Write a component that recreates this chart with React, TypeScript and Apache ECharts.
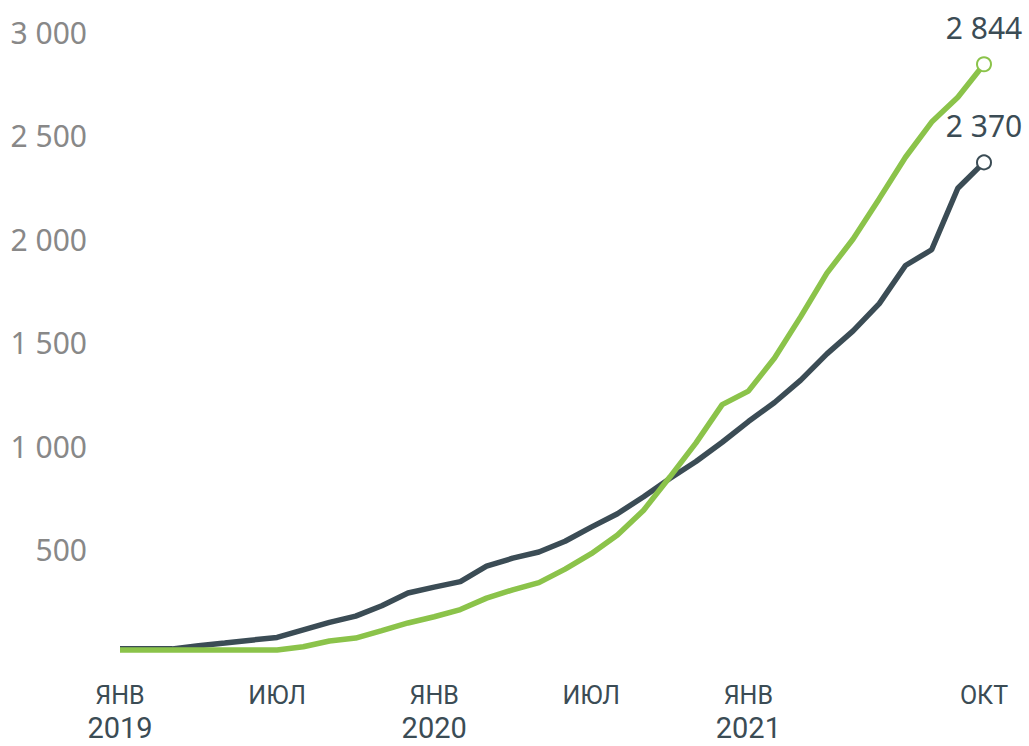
import React, { useEffect, useRef } from "react";
import * as echarts from "echarts";

const months = ["янв","фев","мар","апр","май","июн","июл","авг","сен","окт","ноя","дек",
  "янв","фев","мар","апр","май","июн","июл","авг","сен","окт","ноя","дек",
  "янв","фев","мар","апр","май","июн","июл","авг","сен","окт"];
const years = ["2019","2019","2019","2019","2019","2019","2019","2019","2019","2019","2019","2019",
  "2020","2020","2020","2020","2020","2020","2020","2020","2020","2020","2020","2020",
  "2021","2021","2021","2021","2021","2021","2021","2021","2021","2021"];
const shownLabels = [0, 6, 12, 18, 24, 33];
const yearLabels = [0, 12, 24];

const darkSeries = [20, 20, 20, 35, 48, 62, 75, 112, 148, 178, 228, 290, 318, 345, 420, 458, 488, 540,
  608, 673, 755, 843, 925, 1018, 1118, 1210, 1318, 1445, 1556, 1688, 1872, 1948, 2245, 2370];
const greenSeries = [15, 15, 15, 15, 15, 15, 15, 30, 58, 72, 108, 145, 175, 210, 265, 305, 340, 405,
  480, 570, 690, 850, 1015, 1200, 1265, 1425, 1625, 1835, 2000, 2195, 2395, 2565, 2685, 2844];

const DARK = "#3b4c55";
const GREEN = "#8bc34a";

function fmt(v: number) {
  return String(v).replace(/\B(?=(\d{3})+(?!\d))/g, " ");
}

function mkData(arr: number[]) {
  return arr.map((v, i) =>
    i === arr.length - 1
      ? {
          value: v,
          symbol: "emptyCircle",
          symbolSize: 14,
          label: {
            show: true,
            position: "top",
            distance: 14,
            formatter: () => fmt(v),
            color: DARK,
            fontSize: 30,
            fontFamily: "Noto Sans",
          },
        }
      : { value: v, symbolSize: 0 }
  );
}

export default function App() {
  const ref = useRef<HTMLDivElement>(null);
  useEffect(() => {
    const chart = echarts.init(ref.current!, null, { renderer: "svg" });
    const baseX = {
      type: "category",
      boundaryGap: false,
      position: "bottom",
      axisLine: { show: false },
      axisTick: { show: false },
      splitLine: { show: false },
    };
    chart.setOption({
      animation: false,
      grid: { left: 120, right: 45, top: 32, bottom: 93, containLabel: false },
      xAxis: [
        {
          ...baseX,
          data: months,
          axisLabel: {
            interval: (idx: number) => shownLabels.includes(idx),
            margin: 28,
            formatter: (val: string) => val.toUpperCase(),
            fontSize: 25,
            lineHeight: 29,
            color: DARK,
            fontFamily: "Roboto",
          },
        },
        {
          ...baseX,
          data: years,
          axisLabel: {
            interval: (idx: number) => yearLabels.includes(idx),
            margin: 58,
            fontSize: 29,
            lineHeight: 34,
            color: DARK,
            fontFamily: "Roboto",
          },
        },
      ],
      yAxis: {
        type: "value",
        min: 0,
        max: 3000,
        interval: 500,
        axisLine: { show: false },
        axisTick: { show: false },
        splitLine: { show: false },
        axisLabel: {
          margin: 33,
          align: "right",
          color: "#888888",
          fontSize: 30,
          fontFamily: "Noto Sans",
          formatter: (v: number) => (v === 0 ? "" : fmt(v)),
        },
      },
      series: [
        {
          type: "line",
          xAxisIndex: 0,
          data: mkData(darkSeries),
          symbol: "emptyCircle",
          showAllSymbol: true,
          lineStyle: { color: DARK, width: 5.5 },
          itemStyle: { color: DARK, borderColor: DARK, borderWidth: 2.5 },
          emphasis: { disabled: true },
          z: 2,
        },
        {
          type: "line",
          xAxisIndex: 0,
          data: mkData(greenSeries),
          symbol: "emptyCircle",
          showAllSymbol: true,
          lineStyle: { color: GREEN, width: 5.5 },
          itemStyle: { color: GREEN, borderColor: GREEN, borderWidth: 2.5 },
          emphasis: { disabled: true },
          z: 3,
        },
      ],
    });
    return () => chart.dispose();
  }, []);
  return (
    <div
      ref={ref}
      style={{ position: "absolute", left: 0, top: 0, width: 1029, height: 746 }}
    />
  );
}
